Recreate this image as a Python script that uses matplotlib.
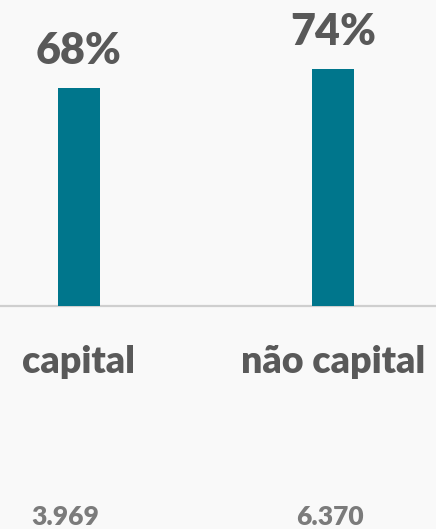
import matplotlib
matplotlib.use("Agg")
import matplotlib.pyplot as plt
from matplotlib import font_manager as fm
from matplotlib.transforms import blended_transform_factory

categories = ["capital", "não capital"]
percent = [68, 74]
counts = ["3.969", "6.370"]

BAR = "#00768C"
TXT = "#595959"
TXT2 = "#7b7b7b"
FONT = ["Lato", "DejaVu Sans"]
WEIGHT = "heavy"

fig = plt.figure(figsize=(4.36, 5.29), dpi=100)
fig.patch.set_facecolor("#f9f9f9")

ax = fig.add_axes([0, (529 - 306) / 529, 1, 306 / 529])
ax.set_facecolor("none")
x = list(range(len(categories)))
ax.bar(x, percent, width=0.165, color=BAR, zorder=3)
ax.set_xlim(-0.310, 1.403)
ax.set_ylim(0, 95.45)
ax.axis("off")
ax.axhline(0, color="#cfcfcf", lw=1.6, zorder=2, clip_on=False)

for i, v in enumerate(percent):
    ax.annotate(f"{v}%", (i, v), xytext=(0, 17.3), textcoords="offset points",
                ha="center", va="baseline", fontsize=31, fontweight=WEIGHT,
                color=TXT, family=FONT)

tr = blended_transform_factory(ax.transData, fig.transFigure)
for i, c in enumerate(categories):
    ax.text(i, (529 - 373) / 529, c, transform=tr, ha="center", va="baseline",
            fontsize=27, fontweight=WEIGHT, color=TXT, family=FONT)

count_dx = [-0.055, -0.012]
for i, c in enumerate(counts):
    ax.text(i + count_dx[i], (529 - 525) / 529, c, transform=tr, ha="center",
            va="baseline", fontsize=19, fontweight=WEIGHT, color=TXT2, family=FONT)

fig.savefig("out.png", dpi=100, facecolor=fig.get_facecolor())
